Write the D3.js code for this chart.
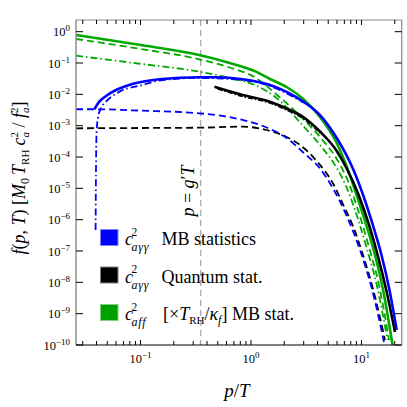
<!DOCTYPE html>
<html>
<head>
<meta charset="utf-8">
<script src="https://cdn.jsdelivr.net/npm/d3@7"></script>
<style>
  html, body { margin: 0; padding: 0; background: #fff; }
  svg text { font-family: "Liberation Serif", "DejaVu Serif", serif; fill: #000; }
</style>
</head>
<body>
<div id="chart"></div>
<script>
/* ── Data (p/T , f) ─────────────────────────────────────── */
const pGreenSolid = [0.0261, 0.0943, 0.340, 0.619, 1.11, 1.485, 2.10, 2.97, 4.21, 5.97, 7.09, 8.73, 10.76, 13.25, 15.75, 19.1];
const fGreenSolid = [0.785, 0.390, 0.180, 0.104, 0.0529, 0.0309, 0.01717, 0.00711, 0.001894, 2.80e-4, 6.93e-5, 8.86e-6, 9.08e-7, 7.46e-8, 5.29e-9, 1.0e-10];

const pGreenDashed = [0.0261, 0.0943, 0.340, 0.619, 1.11, 1.684, 2.97, 4.21, 5.97, 7.55, 9.30, 11.69, 14.40, 17.74];
const fGreenDashed = [0.585, 0.291, 0.131, 0.0747, 0.0333, 0.01027, 0.001635, 4.36e-4, 8.65e-5, 1.716e-5, 2.04e-6, 1.342e-7, 8.23e-9, 1.444e-10];

const pGreenDashDot = [0.0261, 0.0943, 0.340, 0.619, 1.11, 1.684, 2.97, 4.21, 5.97, 7.24, 8.92, 11.21, 13.81, 17.19];
const fGreenDashDot = [0.171, 0.0966, 0.0529, 0.0345, 0.01918, 0.00794, 9.77e-4, 2.42e-4, 4.46e-5, 1.189e-5, 1.633e-6, 1.159e-7, 7.64e-9, 1.444e-10];

const pBlackSolid = [0.466, 0.841, 1.485, 2.10, 2.97, 4.21, 5.97, 7.35, 9.35, 11.94, 14.19, 16.91, 20.10];
const fBlackSolid = [0.0176, 0.00955, 0.00583, 0.003538, 0.001894, 6.52e-4, 1.557e-4, 4.30e-5, 6.60e-6, 5.43e-7, 6.21e-8, 4.92e-9, 2.60e-10];

const pBlackDashDot = [0.50, 0.841, 1.485, 2.10, 2.97, 4.21];
const fBlackDashDot = [0.0150, 0.0086, 0.0053, 0.0032, 0.0017, 5.8e-4];

const pBlackDashed = [0.0261, 0.1047, 0.340, 0.841, 1.387, 2.10, 2.78, 3.93, 5.56, 6.84, 8.43, 10.38, 12.79, 16.32];
const fBlackDashed = [8.26e-4, 8.44e-4, 8.63e-4, 9.29e-4, 7.28e-4, 4.36e-4, 2.42e-4, 7.46e-5, 1.377e-5, 2.94e-6, 5.84e-7, 6.93e-8, 5.69e-9, 1.444e-10];

const pBlueSolid = [0.0382, 0.0424, 0.0487, 0.0600, 0.0739, 0.148, 0.340, 0.482, 0.841, 1.485, 2.97, 4.21, 5.97, 8.43, 10.38, 12.79, 15.17, 17.92, 20.83];
const fBlueSolid = [0.00334, 0.00583, 0.00887, 0.0138, 0.0185, 0.0303, 0.0351, 0.0351, 0.0303, 0.0199, 0.00583, 0.00219, 4.05e-4, 4.00e-5, 5.91e-6, 6.06e-7, 7.46e-8, 5.69e-9, 3.01e-10];

const pBlueDashDot = [0.0392, 0.0396, 0.0401, 0.0412, 0.0439, 0.0487, 0.0643, 0.1047, 0.148, 0.340, 0.841, 1.485, 2.97];
const fBlueDashDot = [4.69e-7, 8.03e-5, 7.28e-4, 1.76e-3, 3.67e-3, 5.83e-3, 0.0122, 0.0199, 0.0277, 0.0333, 0.0287, 0.0185, 0.00550];

const pBlueDashed = [0.0261, 0.0382, 0.1047, 0.340, 0.841, 1.387, 2.10, 2.97, 4.21, 5.56, 7.35, 9.69, 12.37, 15.98];
const fBlueDashed = [0.00334, 0.00334, 0.00301, 0.00248, 0.00152, 8.75e-4, 4.05e-4, 1.394e-4, 4.30e-5, 9.53e-6, 1.310e-6, 1.077e-7, 6.60e-9, 1.246e-10];

const gPrimeT = 0.35;

/* ── Axis ticks ─────────────────────────────────────────── */
const xMajorTicks = [0.1, 1, 10];
const xMajorExp   = ['−1', '0', '1'];
const xMinorTicks = [0.03, 0.04, 0.05, 0.06, 0.07, 0.08, 0.09,
                     0.2, 0.3, 0.4, 0.5, 0.6, 0.7, 0.8, 0.9,
                     2, 3, 4, 5, 6, 7, 8, 9, 20];
const yMajorTicks = [1, 1e-1, 1e-2, 1e-3, 1e-4, 1e-5, 1e-6, 1e-7, 1e-8, 1e-9, 1e-10];
const yMajorExp   = ['0', '−1', '−2', '−3', '−4', '−5', '−6', '−7', '−8', '−9', '−10'];

const BLUE = '#0000ff', BLACK = '#000000', GREEN = '#00a800';

document.addEventListener('DOMContentLoaded', () => drawChart('#chart'));

function drawChart(selector) {
  const width = 407, height = 407;
  const L = 76, R = 401.7, T = 20, B = 345;

  const svg = d3.select(selector).append('svg')
    .attr('width', width).attr('height', height);

  const x = d3.scaleLog().domain([0.02606, 23.12]).range([L, R]);
  const y = d3.scaleLog().domain([1e-10, 2.36]).range([B, T]);

  svg.append('defs').append('clipPath').attr('id', 'plot-clip')
    .append('rect').attr('x', L).attr('y', T).attr('width', R - L).attr('height', B - T);

  // ── Series ───────────────────────────────────────────
  const zip = (ps, fs) => ps.map((p, i) => ({ p, f: fs[i] }));
  const series = [
    { d: zip(pGreenDashDot, fGreenDashDot), c: GREEN, w: 1.8, dash: '7,3,1.5,3' },
    { d: zip(pGreenDashed,  fGreenDashed),  c: GREEN, w: 1.8, dash: '7,4' },
    { d: zip(pGreenSolid,   fGreenSolid),   c: GREEN, w: 2.6, dash: null },
    { d: zip(pBlackDashed,  fBlackDashed),  c: BLACK, w: 1.8, dash: '7,4' },
    { d: zip(pBlackDashDot, fBlackDashDot), c: BLACK, w: 1.8, dash: '5,2,1.5,2' },
    { d: zip(pBlackSolid,   fBlackSolid),   c: BLACK, w: 2.6, dash: null },
    { d: zip(pBlueDashed,   fBlueDashed),   c: BLUE,  w: 1.8, dash: '7,4' },
    { d: zip(pBlueDashDot,  fBlueDashDot),  c: BLUE,  w: 1.8, dash: '7,3,1.5,3' },
    { d: zip(pBlueSolid,    fBlueSolid),    c: BLUE,  w: 2.6, dash: null },
  ];

  const line = d3.line()
    .x(d => x(d.p))
    .y(d => y(d.f))
    .curve(d3.curveMonotoneX);

  const plot = svg.append('g').attr('clip-path', 'url(#plot-clip)');

  // vertical p = g'T marker
  plot.append('line')
    .attr('x1', x(gPrimeT)).attr('x2', x(gPrimeT))
    .attr('y1', T).attr('y2', B)
    .attr('stroke', '#aaaaaa').attr('stroke-width', 1.4)
    .attr('stroke-dasharray', '6,4');

  plot.selectAll('path.curve')
    .data(series)
    .join('path')
    .attr('class', 'curve')
    .attr('d', s => line(s.d))
    .attr('fill', 'none')
    .attr('stroke', s => s.c)
    .attr('stroke-width', s => s.w)
    .attr('stroke-dasharray', s => s.dash)
    .attr('stroke-linejoin', 'round');

  // ── Frame & ticks ────────────────────────────────────
  const frame = svg.append('g');
  frame.append('line').attr('x1', L).attr('x2', L).attr('y1', T).attr('y2', B)
    .attr('stroke', '#888').attr('stroke-width', 1.4);
  frame.append('line').attr('x1', R).attr('x2', R).attr('y1', T).attr('y2', B)
    .attr('stroke', '#888').attr('stroke-width', 1.2);
  frame.append('line').attr('x1', L).attr('x2', R).attr('y1', T).attr('y2', T)
    .attr('stroke', '#888').attr('stroke-width', 1.2);
  frame.append('line').attr('x1', L).attr('x2', R).attr('y1', B).attr('y2', B)
    .attr('stroke', '#000').attr('stroke-width', 1.2);

  const tickStyle = sel => sel.attr('stroke', '#000').attr('stroke-width', 1);
  const xAll = xMajorTicks.concat(xMinorTicks);

  frame.selectAll('line.xb').data(xAll).join('line').attr('class', 'xb')
    .attr('x1', d => x(d)).attr('x2', d => x(d))
    .attr('y1', B).attr('y2', (d, i) => B - (i < 3 ? 5 : 4))
    .call(tickStyle);
  frame.selectAll('line.xt').data(xAll).join('line').attr('class', 'xt')
    .attr('x1', d => x(d)).attr('x2', d => x(d))
    .attr('y1', T).attr('y2', (d, i) => T + (i < 3 ? 5 : 4))
    .call(tickStyle);
  frame.selectAll('line.yl').data(yMajorTicks).join('line').attr('class', 'yl')
    .attr('x1', L).attr('x2', L + 7)
    .attr('y1', d => y(d)).attr('y2', d => y(d))
    .call(tickStyle);
  frame.selectAll('line.yr').data(yMajorTicks).join('line').attr('class', 'yr')
    .attr('x1', R).attr('x2', R - 7)
    .attr('y1', d => y(d)).attr('y2', d => y(d))
    .call(tickStyle);

  // tick labels 10^n
  svg.selectAll('text.ylab').data(yMajorTicks).join('text').attr('class', 'ylab')
    .attr('x', 70).attr('y', d => y(d) + 4.5)
    .attr('text-anchor', 'end').attr('font-size', 12.5)
    .each(function (d, i) {
      const t = d3.select(this);
      t.append('tspan').text('10');
      t.append('tspan').attr('dy', -5).attr('font-size', 9).text(yMajorExp[i]);
    });

  svg.selectAll('text.xlab').data(xMajorTicks).join('text').attr('class', 'xlab')
    .attr('x', d => x(d)).attr('y', 363)
    .attr('text-anchor', 'middle').attr('font-size', 12.5)
    .each(function (d, i) {
      const t = d3.select(this);
      t.append('tspan').text('10');
      t.append('tspan').attr('dy', -5).attr('font-size', 9).text(xMajorExp[i]);
    });

  // ── Axis titles ──────────────────────────────────────
  const xt = svg.append('text').attr('x', 237).attr('y', 397)
    .attr('text-anchor', 'middle').attr('font-size', 19);
  xt.append('tspan').attr('font-style', 'italic').text('p');
  xt.append('tspan').text('/');
  xt.append('tspan').attr('font-style', 'italic').text('T');

  const yt = svg.append('text')
    .attr('transform', 'translate(25,178) rotate(-90)')
    .attr('text-anchor', 'middle').attr('font-size', 18);
  yt.append('tspan').attr('font-style', 'italic').text('f');
  yt.append('tspan').text('(');
  yt.append('tspan').attr('font-style', 'italic').text('p');
  yt.append('tspan').text(', ');
  yt.append('tspan').attr('font-style', 'italic').text('T');
  yt.append('tspan').text(') [');
  yt.append('tspan').attr('font-style', 'italic').text('M');
  yt.append('tspan').attr('font-size', 12).attr('dy', 4).text('0');
  yt.append('tspan').attr('font-style', 'italic').attr('dy', -4).attr('dx', 3).text('T');
  yt.append('tspan').attr('font-size', 11).attr('dy', 4).text('RH');
  yt.append('tspan').attr('font-style', 'italic').attr('dy', -4).attr('dx', 4).text('c');
  yt.append('tspan').attr('font-size', 11).attr('dy', -7).text('2');
  yt.append('tspan').attr('font-size', 11).attr('font-style', 'italic').attr('dx', -5.5).attr('dy', 11).text('a');
  yt.append('tspan').attr('dy', -4).text(' / ');
  yt.append('tspan').attr('font-style', 'italic').text('f');
  yt.append('tspan').attr('font-size', 11).attr('dy', -7).text('2');
  yt.append('tspan').attr('font-size', 11).attr('font-style', 'italic').attr('dx', -5.5).attr('dy', 11).text('a');
  yt.append('tspan').attr('dy', -4).text(']');

  const gt = svg.append('text')
    .attr('transform', `translate(${x(gPrimeT) - 7},191) rotate(-90)`)
    .attr('text-anchor', 'middle').attr('font-size', 18);
  gt.append('tspan').attr('font-style', 'italic').text('p');
  gt.append('tspan').text(' = ');
  gt.append('tspan').attr('font-style', 'italic').text('g');
  gt.append('tspan').text('′');
  gt.append('tspan').attr('font-style', 'italic').text('T');

  // ── Legend ───────────────────────────────────────────
  const legend = [
    { fill: '#0000ff', edge: '#8080ff', y: 245,   sub: 'aγγ', rest: 'MB statistics' },
    { fill: '#000000', edge: '#808080', y: 282.5, sub: 'aγγ', rest: 'Quantum stat.' },
    { fill: '#00a000', edge: '#80d080', y: 320,   sub: 'aff', rest: null },
  ];
  const lg = svg.append('g');
  legend.forEach(it => {
    lg.append('rect').attr('x', 100.5).attr('y', it.y - 15.5)
      .attr('width', 17.5).attr('height', 16)
      .attr('fill', it.fill).attr('stroke', it.edge).attr('stroke-width', 1);
    const sym = lg.append('text').attr('x', 125).attr('y', it.y).attr('font-size', 18);
    sym.append('tspan').attr('font-style', 'italic').text('c');
    sym.append('tspan').attr('font-size', 11.5).attr('dx', -1.5).attr('dy', -9.5).text('2');
    sym.append('tspan').attr('font-size', 12).attr('font-style', 'italic')
      .attr('letter-spacing', 0.8).attr('dx', -5.8).attr('dy', 15.5).text(it.sub);
    if (it.rest) {
      lg.append('text').attr('x', 161.5).attr('y', it.y).attr('font-size', 18).text(it.rest);
    } else {
      const t = lg.append('text').attr('x', 163).attr('y', it.y).attr('font-size', 18);
      t.append('tspan').text('[×');
      t.append('tspan').attr('font-style', 'italic').text('T');
      t.append('tspan').attr('font-size', 11).attr('dy', 4).text('RH');
      t.append('tspan').attr('dy', -4).text('/');
      t.append('tspan').attr('font-style', 'italic').text('κ');
      t.append('tspan').attr('font-size', 12).attr('font-style', 'italic').attr('dy', 4).text('f');
      t.append('tspan').attr('dy', -4).text('] MB stat.');
    }
  });
}
</script>
</body>
</html>
